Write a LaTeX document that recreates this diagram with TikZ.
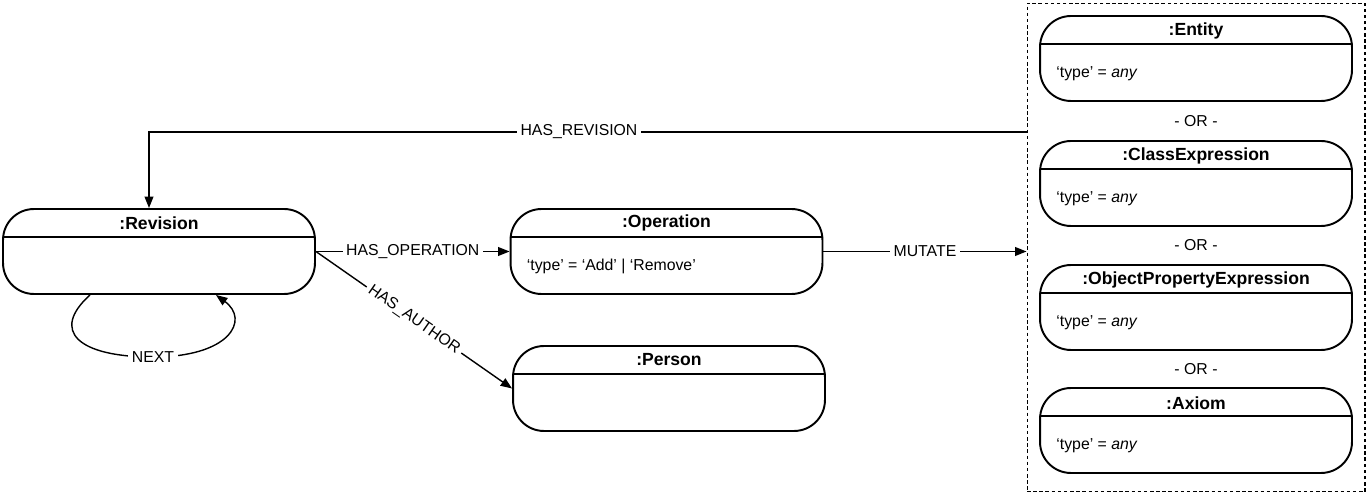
\documentclass[tikz,border=0pt]{standalone}
\usepackage{fontspec}
\setmainfont{Liberation Sans}
\usetikzlibrary{arrows.meta,positioning,calc}

\begin{document}
\begin{tikzpicture}[
    x=0.02cm, y=-0.02cm,
    entbox/.style={rectangle, draw, line width=1.1pt, rounded corners=0.62cm,
        minimum width=6.24cm, minimum height=1.7cm, inner sep=0pt,
        path picture={\draw[line width=1.1pt]
            ([yshift=-0.56cm]path picture bounding box.north west) --
            ([yshift=-0.56cm]path picture bounding box.north east);}},
    enttitle/.style={font=\fontsize{10}{12}\selectfont\bfseries, inner sep=0pt},
    entattr/.style={font=\fontsize{9}{11}\selectfont, anchor=west, inner sep=0pt},
    ortext/.style={font=\fontsize{9}{11}\selectfont, inner sep=0pt},
    orgroup/.style={rectangle, draw, line width=0.6pt, dash pattern=on 2pt off 1.5pt,
        minimum width=6.76cm, minimum height=9.78cm, inner sep=0pt},
    arr/.style={-{Triangle[length=6.5pt, width=5pt]}, line width=0.8pt},
    lbl/.style={font=\fontsize{9}{11}\selectfont, fill=white, inner sep=2pt}
]
    \useasboundingbox (0,0) rectangle (1369,496);

    % left and middle nodes
    \node[entbox] (rev) at (159,251.5) {};
    \node[enttitle] (revtitle) at ([yshift=-0.3cm]rev.north) {:Revision};

    \node[entbox] (op) at (666.5,251.5) {};
    \node[enttitle] (optitle) at ([yshift=-0.3cm]op.north) {:Operation};
    \node[entattr] (opattr) at ([xshift=0.34cm, yshift=-0.29cm]op.west)
        {‘type’ = ‘Add’ | ‘Remove’};

    \node[entbox] (person) at (669,388.5) {};
    \node[enttitle] (persontitle) at ([yshift=-0.3cm]person.north) {:Person};

    % alternatives on the right
    \node[orgroup] (targets) at (1196,247.5) {};

    \node[entbox] (entity) at (1196,58.5) {};
    \node[enttitle] (entitytitle) at ([yshift=-0.32cm]entity.north) {:Entity};
    \node[entattr] (entityattr) at ([xshift=0.34cm, yshift=-0.31cm]entity.west)
        {‘type’ = \textit{any}};

    \node[entbox] (classexp) at (1196,183.5) {};
    \node[enttitle] (classexptitle) at ([yshift=-0.32cm]classexp.north) {:ClassExpression};
    \node[entattr] (classexpattr) at ([xshift=0.34cm, yshift=-0.31cm]classexp.west)
        {‘type’ = \textit{any}};

    \node[entbox] (objprop) at (1196,307.5) {};
    \node[enttitle] (objproptitle) at ([yshift=-0.32cm]objprop.north) {:ObjectPropertyExpression};
    \node[entattr] (objpropattr) at ([xshift=0.34cm, yshift=-0.31cm]objprop.west)
        {‘type’ = \textit{any}};

    \node[entbox] (axiom) at (1196,430.5) {};
    \node[enttitle] (axiomtitle) at ([yshift=-0.32cm]axiom.north) {:Axiom};
    \node[entattr] (axiomattr) at ([xshift=0.34cm, yshift=-0.31cm]axiom.west)
        {‘type’ = \textit{any}};

    \node[ortext] (or1) at ($(entity.south)!0.5!(classexp.north)$) {- OR -};
    \node[ortext] (or2) at ($(classexp.south)!0.5!(objprop.north)$) {- OR -};
    \node[ortext] (or3) at ($(objprop.south)!0.5!(axiom.north)$) {- OR -};

    % relations
    \draw[arr] ([yshift=2.31cm]targets.west) -| node[lbl, pos=0.255] {HAS\_REVISION}
        ([xshift=-0.2cm]rev.north);
    \draw[arr] (rev.east) -- node[lbl] {HAS\_OPERATION} (op.west);
    \draw[arr] (rev.east) -- node[lbl, sloped] {HAS\_AUTHOR} (person.west);
    \draw[arr] (op.east) -- node[lbl] {MUTATE} (op.east -| targets.west);
    \draw[arr] ([xshift=-1.38cm]rev.south) .. controls +(-40,36) and +(-75,0) ..
        (153,357) node[lbl] (nextlbl) {NEXT}
        .. controls +(77,0) and +(34,25) .. ([xshift=1.14cm]rev.south);
\end{tikzpicture}
\end{document}
